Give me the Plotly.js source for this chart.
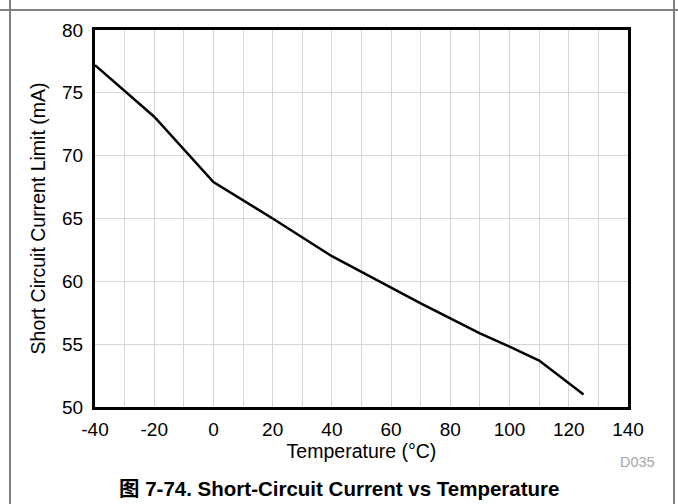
<!DOCTYPE html>
<html>
<head>
<meta charset="utf-8">
<script src="https://cdn.plot.ly/plotly-3.0.1.min.js"></script>
<style>
  html, body { margin: 0; padding: 0; background: #fff; }
  #wrap { position: relative; width: 678px; height: 504px; overflow: hidden; }
  #chart { position: absolute; left: 0; top: 0; width: 678px; height: 504px; }
  .fr { position: absolute; background: #808080; }
</style>
</head>
<body>
<div id="wrap">
  <div id="chart"></div>
  <div class="fr" style="left:0;top:9px;width:678px;height:2px;"></div>
  <div class="fr" style="left:9px;top:0;width:2px;height:504px;"></div>
  <div class="fr" style="left:673px;top:0;width:2px;height:504px;"></div>
</div>
<script>
// Data
var temperature = [-40, -20, 0, 20, 40, 50, 60, 70, 80, 90, 100, 110, 125];
var currentLimit = [77.2, 73.1, 67.9, 65.0, 62.0, 60.75, 59.45, 58.25, 57.05, 55.85, 54.8, 53.7, 51.0];
var xTicks = [-40, -20, 0, 20, 40, 60, 80, 100, 120, 140];
var yTicks = [50, 55, 60, 65, 70, 75, 80];

var font = 'Liberation Sans, Arial, Helvetica, sans-serif';

var trace = {
  x: temperature,
  y: currentLimit,
  type: 'scatter',
  mode: 'lines',
  line: { color: '#000000', width: 2.5 },
  hoverinfo: 'skip'
};

var layout = {
  width: 678,
  height: 504,
  margin: { l: 95, r: 50, t: 30, b: 97 },
  paper_bgcolor: 'rgba(0,0,0,0)',
  plot_bgcolor: '#ffffff',
  showlegend: false,
  font: { family: font, color: '#000000', size: 19 },
  xaxis: {
    range: [-40, 140],
    tickvals: xTicks,
    ticktext: xTicks.map(String),
    showgrid: true,
    gridcolor: '#d6d6d6',
    gridwidth: 1,
    minor: { dtick: 10, showgrid: true, gridcolor: '#d6d6d6', gridwidth: 1 },
    showline: true, linecolor: '#000000', linewidth: 3, mirror: true,
    ticks: '', zeroline: false,
    tickfont: { size: 19, family: font },
    ticklabelstandoff: 3,
    title: { text: 'Temperature (°C)', font: { size: 19.5, family: font }, standoff: 6 }
  },
  yaxis: {
    range: [50, 80],
    tickvals: yTicks,
    ticktext: yTicks.map(String),
    showgrid: true,
    gridcolor: '#d6d6d6',
    gridwidth: 1,
    showline: true, linecolor: '#000000', linewidth: 3, mirror: true,
    ticks: '', zeroline: false,
    tickfont: { size: 19, family: font },
    ticklabelstandoff: 5,
    title: { text: 'Short Circuit Current Limit (mA)', font: { size: 19.5, family: font }, standoff: 12 }
  },
  annotations: [
    { text: 'D035', xref: 'paper', yref: 'paper', x: 1.0544, y: -0.146, xanchor: 'right', yanchor: 'middle',
      showarrow: false, font: { size: 14.5, color: '#a6a6a6', family: font } },
    { text: '<b>图 7-74. Short-Circuit Current vs Temperature</b>', xref: 'paper', yref: 'paper',
      x: 0.457, y: -0.215, xanchor: 'center', yanchor: 'middle', showarrow: false,
      font: { size: 20.5, color: '#000000', family: 'Liberation Sans, Arial, Noto Sans CJK SC, sans-serif' } }
  ]
};

Plotly.newPlot('chart', [trace], layout, { staticPlot: true, displayModeBar: false });
</script>
</body>
</html>
